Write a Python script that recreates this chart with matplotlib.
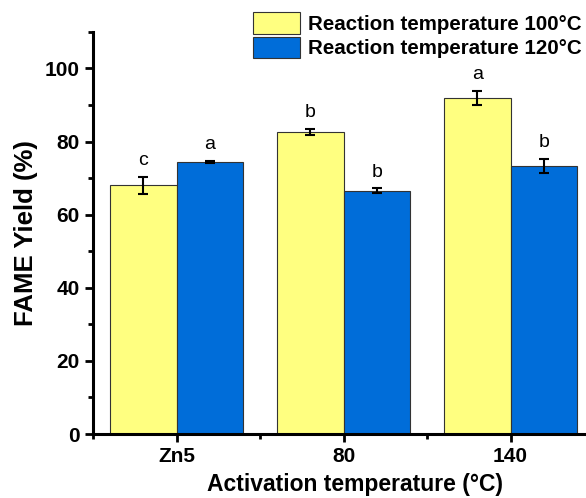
import numpy as np
import matplotlib.pyplot as plt
from matplotlib.ticker import MultipleLocator
from matplotlib.patches import Patch

plt.rcParams['font.family'] = ['Liberation Sans', 'DejaVu Sans']

# data
categories = ['Zn5', '80', '140']
yield_100 = [68.0, 82.6, 91.9]
err_100 = [2.4, 0.9, 2.0]
yield_120 = [74.5, 66.5, 73.3]
err_120 = [0.3, 0.7, 2.0]
letters_100 = ['c', 'b', 'a']
letters_120 = ['a', 'b', 'b']

c_yellow = '#FFFF80'
c_blue = '#006DD9'

fig = plt.figure(figsize=(5.86, 4.98), dpi=100)
ax = fig.add_axes([0.159, 0.1285, 0.841, 0.8075])

x = np.arange(len(categories))
w = 0.4
ax.bar(x - w / 2, yield_100, w, color=c_yellow, edgecolor='#333333', linewidth=0.8,
       yerr=err_100, capsize=3.5, error_kw=dict(elinewidth=1.5, capthick=1.5, ecolor='black'))
ax.bar(x + w / 2, yield_120, w, color=c_blue, edgecolor='#333333', linewidth=0.8,
       yerr=err_120, capsize=3.5, error_kw=dict(elinewidth=1.5, capthick=1.5, ecolor='black'))

# significance letters
for i in range(len(categories)):
    ax.text(x[i] - w / 2, yield_100[i] + err_100[i] + 2.0, letters_100[i],
            ha='center', va='bottom', fontsize=14)
    ax.text(x[i] + w / 2, yield_120[i] + err_120[i] + 2.0, letters_120[i],
            ha='center', va='bottom', fontsize=14)

ax.set_xlim(-0.5, 2.452)
ax.set_ylim(0, 110)
ax.set_xticks(x)
ax.set_xticklabels(categories)
ax.xaxis.set_minor_locator(MultipleLocator(1, offset=0.5))
ax.yaxis.set_major_locator(MultipleLocator(20))
ax.yaxis.set_minor_locator(MultipleLocator(10))

for s in ['top', 'right']:
    ax.spines[s].set_visible(False)
for s in ['left', 'bottom']:
    ax.spines[s].set_linewidth(2.2)

ax.tick_params(which='major', length=6, width=2, labelsize=15)
ax.tick_params(which='minor', length=3.5, width=2)
for lab in ax.get_xticklabels() + ax.get_yticklabels():
    lab.set_fontweight('bold')

ax.set_xlabel('Activation temperature (°C)', fontsize=16.5, fontweight='bold')
ax.xaxis.set_label_coords(0.531, -0.097)
ax.set_ylabel('FAME Yield (%)', fontsize=18.5, fontweight='bold', labelpad=5)

handles = [Patch(facecolor=c_yellow, edgecolor='#333333', linewidth=0.8),
           Patch(facecolor=c_blue, edgecolor='#333333', linewidth=0.8)]
fig.legend(handles, ['Reaction temperature 100°C', 'Reaction temperature 120°C'],
           loc='upper left', bbox_to_anchor=(0.432, 0.975), frameon=False,
           prop=dict(size=14.8, weight='bold'), handlelength=2.3, handleheight=1.2,
           handletextpad=0.38, labelspacing=0.15, borderaxespad=0, borderpad=0)

fig.savefig('out.png', dpi=100)
